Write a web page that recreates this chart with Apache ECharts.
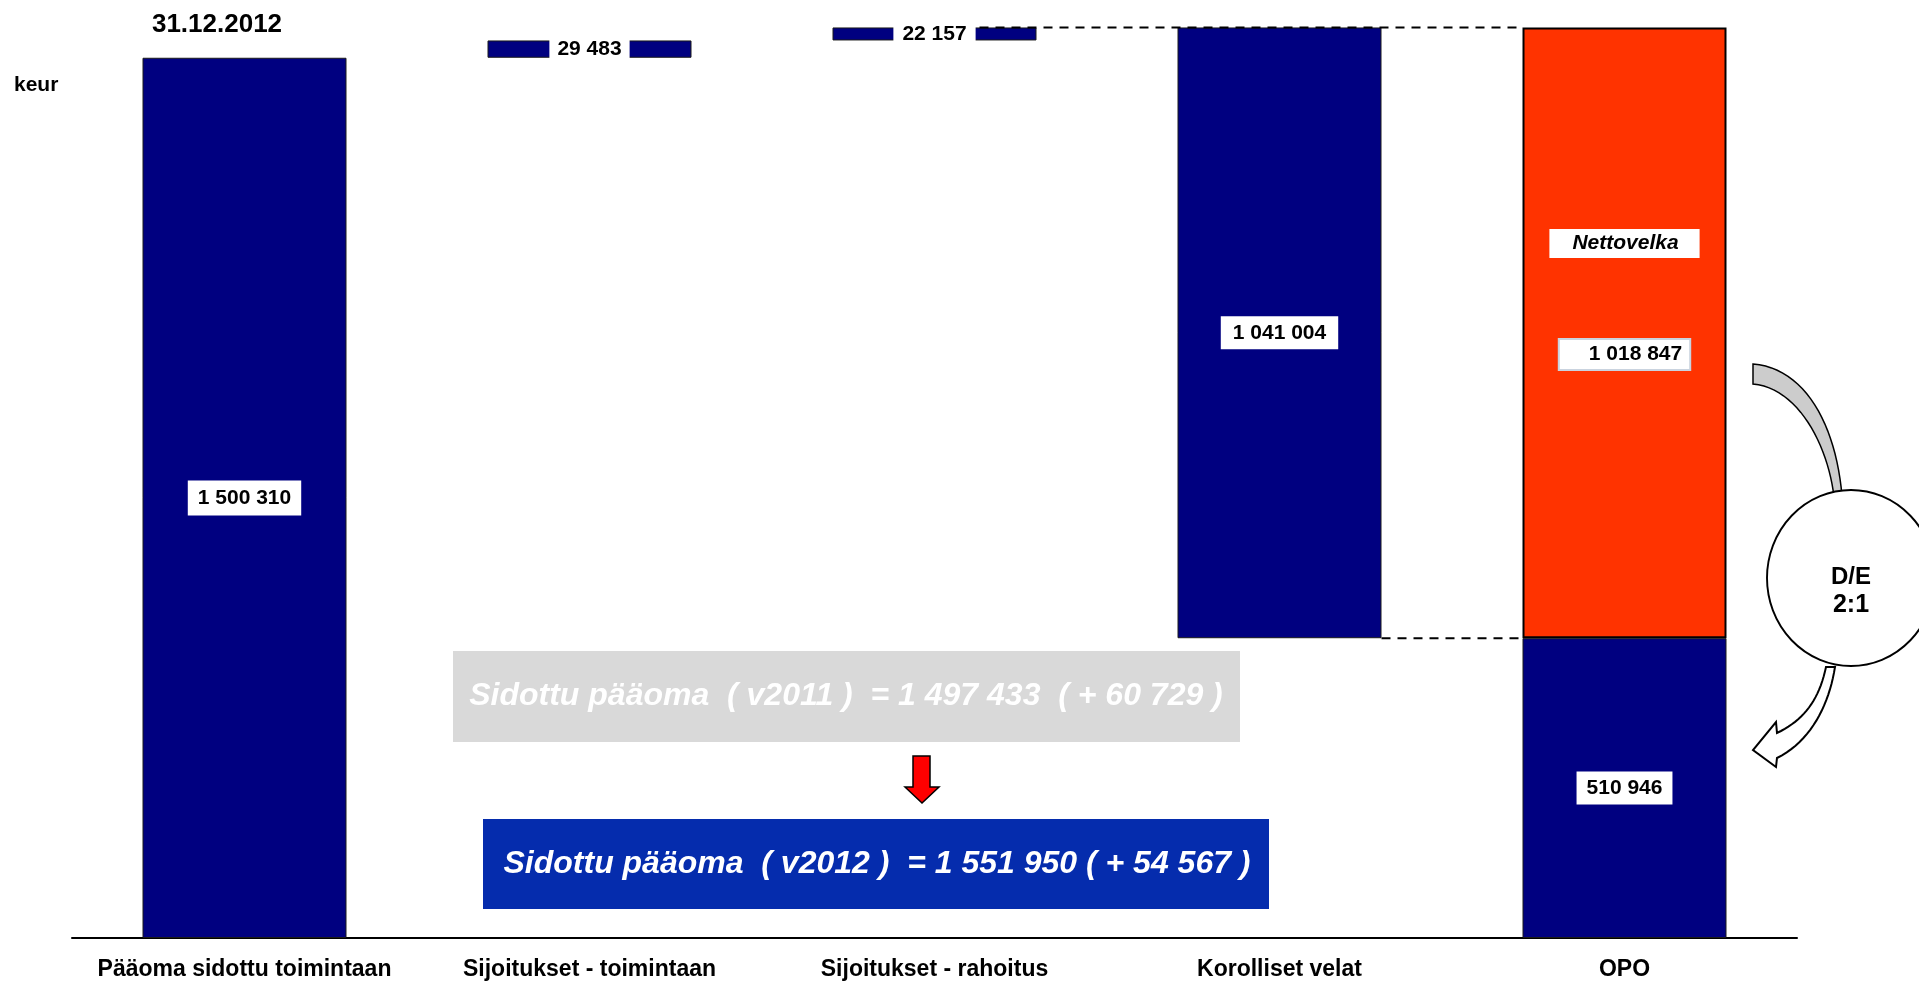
<!DOCTYPE html>
<html>
<head>
<meta charset="utf-8">
<script src="https://cdn.jsdelivr.net/npm/echarts@6.0.0/dist/echarts.min.js"></script>
<style>
html,body{margin:0;padding:0;background:#ffffff;}
#chart{width:1919px;height:981px;}
</style>
</head>
<body>
<div id="chart"></div>
<script>
// ---- data ----
const categories = ['Pääoma sidottu toimintaan', 'Sijoitukset - toimintaan', 'Sijoitukset - rahoitus', 'Korolliset velat', 'OPO'];
const baseValues = [0, 1500310, 1529793, 510946, 0];          // invisible waterfall offsets
const barValues = [1500310, 29483, 22157, 1041004, 510946];   // navy bars
const nettovelkaBar = [null, null, null, null, 1041004];      // orange bar height as drawn
const nettovelkaValue = 1018847;                              // orange bar label
const dateLabel = '31.12.2012';
const unitLabel = 'keur';
const nettovelkaTitle = 'Nettovelka';
const summary2011 = 'Sidottu pääoma  ( v2011 )  = 1 497 433  ( + 60 729 )';
const summary2012 = 'Sidottu pääoma  ( v2012 )  = 1 551 950 ( + 54 567 )';
const ratioLines = ['D/E', '2:1'];

// ---- chart ----
const FONT = '"Liberation Sans", Arial, Helvetica, sans-serif';
const NAVY = '#000080';
const BAR_W = 204;
const fmt = v => String(v).replace(/\B(?=(\d{3})+(?!\d))/g, ' ');

const labelPads = [[5, 10], [0, 8], [0, 9], [4, 12], [4, 10]];
const navyData = barValues.map((v, i) => ({
  value: v,
  label: { padding: labelPads[i], lineHeight: (i === 1 || i === 2) ? 22 : 25 }
}));

const chart = echarts.init(document.getElementById('chart'), null, { renderer: 'canvas' });

const option = {
  animation: false,
  backgroundColor: '#ffffff',
  textStyle: { fontFamily: FONT },
  grid: { left: 72, right: 122, top: 11, bottom: 43, containLabel: false },
  xAxis: {
    type: 'category',
    data: categories,
    axisLine: { show: true, lineStyle: { color: '#000', width: 2 } },
    axisTick: { show: false },
    axisLabel: { color: '#000', fontSize: 23, fontWeight: 'bold', fontFamily: FONT, margin: 20, interval: 0 }
  },
  yAxis: {
    type: 'value', min: 0, max: 1580000, show: false,
    splitLine: { show: false }
  },
  series: [
    {
      name: 'base', type: 'bar', stack: 'w', barWidth: BAR_W,
      data: baseValues, silent: true,
      itemStyle: { color: 'rgba(0,0,0,0)', borderWidth: 0 },
      emphasis: { disabled: true }
    },
    {
      name: 'main', type: 'bar', stack: 'w', barWidth: BAR_W,
      data: navyData,
      itemStyle: { color: NAVY, borderColor: '#1a1a1a', borderWidth: 1 },
      label: {
        show: true, position: 'inside',
        formatter: p => fmt(p.value),
        color: '#000', fontSize: 21, fontWeight: 'bold', fontFamily: FONT,
        backgroundColor: '#ffffff'
      },
      emphasis: { disabled: true }
    },
    {
      name: 'nettovelka', type: 'bar', stack: 'w', barWidth: BAR_W,
      data: nettovelkaBar,
      itemStyle: { color: '#FF3300', borderColor: '#000', borderWidth: 2 },
      label: {
        show: true, position: 'insideTop', distance: 205,
        formatter: () => '{n|' + nettovelkaTitle + '}\n{s| }\n{v|' + fmt(nettovelkaValue) + '}',
        rich: {
          n: { backgroundColor: '#fff', color: '#000', fontStyle: 'italic', fontWeight: 'bold',
               fontSize: 21, lineHeight: 22, padding: [4, 21, 4, 23], fontFamily: FONT },
          s: { fontSize: 10, lineHeight: 88, height: 88 },
          v: { backgroundColor: '#fff', color: '#000', fontWeight: 'bold', fontSize: 21, lineHeight: 24,
               padding: [4, 7, 4, 29], borderColor: '#c9d3df', borderWidth: 2, fontFamily: FONT }
        }
      },
      emphasis: { disabled: true }
    }
  ]
};
chart.setOption(option);

// ---- annotations ----
const toPx = (i, v) => chart.convertToPixel({ gridIndex: 0 }, [i, v]);
const topLevel = baseValues[2] + barValues[2];
const lowLevel = baseValues[3];
const pUpStart = toPx(2, topLevel);
const pUpEnd = toPx(4, topLevel);
const pLowStart = toPx(3, lowLevel);
const pLowEnd = toPx(4, lowLevel);

const dash = { stroke: '#000', lineWidth: 2, lineDash: [9, 7] };

// sample a cubic bezier into points
function bez(p0, p1, p2, p3, n) {
  const pts = [];
  for (let k = 0; k <= n; k++) {
    const t = k / n, u = 1 - t;
    pts.push([
      u*u*u*p0[0] + 3*u*u*t*p1[0] + 3*u*t*t*p2[0] + t*t*t*p3[0],
      u*u*u*p0[1] + 3*u*u*t*p1[1] + 3*u*t*t*p2[1] + t*t*t*p3[1]
    ]);
  }
  return pts;
}
const wedge = bez([1753, 364], [1805, 368], [1836, 425], [1842, 496], 24)
  .concat(bez([1834, 497], [1828, 445], [1798, 388], [1753, 384], 24));
const downArrow = bez([1826, 667], [1819, 700], [1804, 720], [1777, 733], 20)
  .concat([[1776, 722], [1753, 750], [1776, 767], [1777, 758]])
  .concat(bez([1777, 758], [1811, 741], [1829, 705], [1835, 667], 20).slice(1));

chart.setOption({
  graphic: [
    { type: 'line', z: 50, shape: { x1: pUpStart[0] + 45, y1: pUpStart[1], x2: pUpEnd[0] - BAR_W / 2, y2: pUpEnd[1] }, style: dash, silent: true },
    { type: 'line', z: 50, shape: { x1: pLowStart[0] + BAR_W / 2, y1: pLowStart[1], x2: pLowEnd[0] - BAR_W / 2, y2: pLowEnd[1] }, style: dash, silent: true },

    { type: 'text', x: 217, y: 25, style: { text: dateLabel, fill: '#000', fontSize: 26, fontWeight: 'bold', fontFamily: FONT, align: 'center', verticalAlign: 'middle' } },
    { type: 'text', x: 14, y: 85, style: { text: unitLabel, fill: '#000', fontSize: 21, fontWeight: 'bold', fontFamily: FONT, align: 'left', verticalAlign: 'middle' } },

    { type: 'rect', shape: { x: 453, y: 651, width: 787, height: 91 }, style: { fill: '#d9d9d9' } },
    { type: 'text', x: 846, y: 696, style: { text: summary2011, fill: '#ffffff', fontSize: 32, fontWeight: 'bold', fontStyle: 'italic', fontFamily: FONT, align: 'center', verticalAlign: 'middle' } },

    { type: 'polygon', shape: { points: [[913, 756], [930, 756], [930, 787], [939, 787], [922, 803], [905, 787], [913, 787]] }, style: { fill: '#ff0000', stroke: '#000', lineWidth: 1.5 } },

    { type: 'rect', shape: { x: 483, y: 819, width: 786, height: 90 }, style: { fill: '#052cad' } },
    { type: 'text', x: 877, y: 864, style: { text: summary2012, fill: '#ffffff', fontSize: 32, fontWeight: 'bold', fontStyle: 'italic', fontFamily: FONT, align: 'center', verticalAlign: 'middle' } },

    { type: 'polygon', z: 5, shape: { points: wedge }, style: { fill: '#cccccc', stroke: '#000', lineWidth: 1.5 } },
    { type: 'circle', z: 6, x: 1851, y: 578, scaleX: 84 / 88, shape: { cx: 0, cy: 0, r: 88 }, style: { fill: '#ffffff', stroke: '#000', lineWidth: 2, strokeNoScale: true } },
    { type: 'text', z: 7, x: 1851, y: 577, style: { text: ratioLines[0], fill: '#000', fontSize: 24, fontWeight: 'bold', fontFamily: FONT, align: 'center', verticalAlign: 'middle' } },
    { type: 'text', z: 7, x: 1851, y: 605, style: { text: ratioLines[1], fill: '#000', fontSize: 25, fontWeight: 'bold', fontFamily: FONT, align: 'center', verticalAlign: 'middle' } },
    { type: 'polygon', z: 5, shape: { points: downArrow }, style: { fill: '#ffffff', stroke: '#000', lineWidth: 2 } }
  ]
});
</script>
</body>
</html>
